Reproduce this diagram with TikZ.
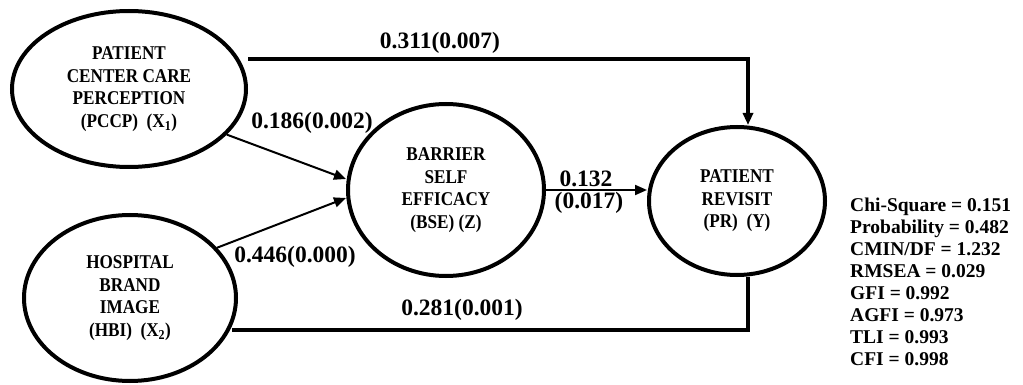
\documentclass[tikz,border=0pt]{standalone}
\usepackage{fontspec}
\setmainfont{Liberation Serif}
\newfontfamily\capsfont[FakeStretch=0.88]{Liberation Serif}
\usetikzlibrary{shapes.geometric,arrows.meta}
\begin{document}
\begin{tikzpicture}[x=1pt,y=-1pt,
 latent/.style={ellipse,draw,line width=4pt,inner sep=0pt,align=center,font=\capsfont\bfseries\fontsize{19.5}{22.5}\selectfont},
 mainline/.style={line width=3.5pt},
 diagline/.style={line width=2pt},
 arrowtip/.style={-{Triangle[length=12pt,width=10pt]}},
 coef/.style={font=\bfseries\fontsize{23.5}{27}\selectfont,inner sep=0pt},
 gofstyle/.style={font=\bfseries\fontsize{19.5}{21.9}\selectfont,align=left,inner sep=0pt,anchor=north west}]
\useasboundingbox (0,0) rectangle (1023,385);
\node[latent,minimum width=234pt,minimum height=156pt] (PCCP) at (129,89) {PATIENT\\CENTER CARE\\PERCEPTION\\(PCCP)~~(X\textsubscript{1})};
\node[latent,minimum width=212pt,minimum height=166pt] (HBI) at (130,298) {HOSPITAL\\BRAND\\IMAGE\\(HBI)~~(X\textsubscript{2})};
\node[latent,minimum width=196pt,minimum height=172pt] (BSE) at (446,190) {BARRIER\\SELF\\EFFICACY\\(BSE) (Z)};
\node[latent,minimum width=176pt,minimum height=148pt] (PR) at (737,201) {PATIENT\\REVISIT\\(PR)~~(Y)};
\coordinate (c1) at (748,59);
\coordinate (c2) at (748,330);
\draw[mainline,arrowtip] (PCCP.east |- c1) -- (c1) -- (PR.north -| c1);
\draw[mainline] ([xshift=-6pt]HBI.east |- c2) -- (c2) -- (PR.south -| c2);
\draw[diagline,arrowtip] (PCCP.-25) -- ([yshift=11pt]BSE.west);
\draw[diagline,arrowtip] (HBI.30) -- ([yshift=-8pt]BSE.west);
\draw[diagline,arrowtip] (BSE.east) -- (BSE.east -| PR.west);
\node[coef] (l1) at (440,43) {0.311(0.007)};
\node[coef] (l2) at (312,123) {0.186(0.002)};
\node[coef] (l3) at (295,257) {0.446(0.000)};
\node[coef] (l4) at (462,310) {0.281(0.001)};
\node[coef] (l5) at (586,179) {0.132};
\node[coef] (l6) at (589,203) {(0.017)};
\node[gofstyle] (gof) at (850,198) {Chi-Square = 0.151\\Probability = 0.482\\CMIN/DF = 1.232\\RMSEA = 0.029\\GFI = 0.992\\AGFI = 0.973\\TLI = 0.993\\CFI = 0.998};
\end{tikzpicture}
\end{document}
